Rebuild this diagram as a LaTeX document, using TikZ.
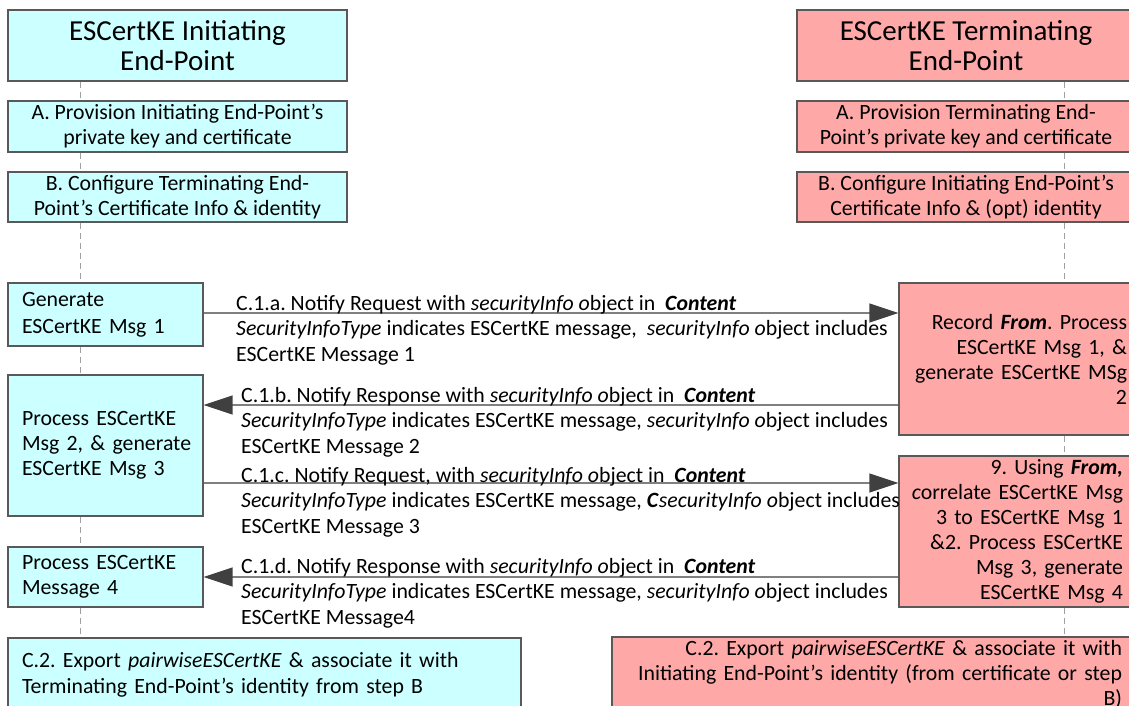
\documentclass[tikz,border=0pt]{standalone}
\usepackage{fontspec}
\setmainfont{Carlito}
\usetikzlibrary{arrows.meta, positioning}
\definecolor{inifill}{RGB}{204,255,255}
\definecolor{terfill}{RGB}{255,168,168}
\definecolor{edgegray}{RGB}{89,89,89}
\definecolor{linegray}{RGB}{128,128,128}
\definecolor{tipgray}{RGB}{64,64,64}
\definecolor{lifegray}{RGB}{160,160,160}
\frenchspacing

\begin{document}
\begin{tikzpicture}[x=1pt, y=-1pt,
    box/.style={rectangle, draw=edgegray, line width=1.2pt, inner sep=0pt, font=\fontsize{21.8}{25}\selectfont},
    ini/.style={box, fill=inifill},
    ter/.style={box, fill=terfill},
    head/.style={font=\fontsize{29}{30}\selectfont, minimum height=71pt, align=center},
    life/.style={draw=lifegray, line width=1pt, dash pattern=on 6pt off 4pt},
    msg/.style={draw=linegray, line width=1.3pt, -{Triangle[length=29pt, width=19pt, color=tipgray]}},
    msgtext/.style={anchor=north west, align=left, inner sep=0pt, font=\fontsize{21.8}{25.5}\selectfont}
]
\useasboundingbox (0,0) rectangle (1129,706);

% Initiating End-Point
\node[ini, head, minimum width=339pt] (hdrI) at (177.5,45.5) {ESCertKE Initiating\\End-Point};
\node[ini, minimum width=339pt, minimum height=51pt, align=center] (provI) at (177.5,126.5) {A. Provision Initiating End-Point’s\\private key and certificate};
\node[ini, minimum width=339pt, minimum height=50pt, align=center] (confI) at (177.5,197) {B. Configure Terminating End-\\Point’s Certificate Info \& identity};
\node[ini, minimum height=63pt, inner xsep=14pt, text width=167pt, align=left, font=\fontsize{21.8}{27}\selectfont] (genI) at (105.5,314.5) {Generate\\ESCertKE Msg 1};
\node[ini, minimum height=141pt, inner xsep=14pt, text width=167pt, align=left] (procI2) at (105.5,445.5) {Process ESCertKE\\\mbox{Msg 2, \& generate}\\ESCertKE Msg 3};
\node[ini, minimum height=60pt, inner xsep=14pt, text width=167pt, align=left] (procI4) at (105.5,577) {Process ESCertKE\\Message 4};
\node[ini, minimum height=74pt, inner xsep=14pt, text width=485pt, align=left, font=\fontsize{21.8}{26}\selectfont] (expI) at (264.5,675) {C.2. Export \textit{pairwiseESCertKE} \& associate it with\\Terminating End-Point’s identity from step B};

% Terminating End-Point
\node[ter, head, minimum width=338pt] (hdrT) at (966,45.5) {ESCertKE Terminating\\End-Point};
\node[ter, minimum width=338pt, minimum height=51pt, align=center] (provT) at (966,126.5) {A. Provision Terminating End-\\Point’s private key and certificate};
\node[ter, minimum width=338pt, minimum height=50pt, align=center] (confT) at (966,197) {B. Configure Initiating End-Point’s\\Certificate Info \& (opt) identity};
\node[ter, minimum height=152pt, inner xsep=8pt, text width=220pt, align=right] (recT) at (1017,359) {Record \textbf{\textit{From}}. Process\\ESCertKE Msg 1, \&\\generate ESCertKE MSg\\2};
\node[ter, minimum height=151pt, inner xsep=12pt, text width=212pt, align=right] (corrT) at (1017,531.5) {9. Using \textbf{\textit{From,}}\\\textit{c}orrelate ESCertKE Msg\\3 to ESCertKE Msg 1\\\&2. Process ESCertKE\\Msg 3, generate\\ESCertKE Msg 4};
\node[ter, minimum height=75pt, inner xsep=14pt, text width=496pt, align=right] (expT) at (874,674.5) {C.2. Export \textit{pairwiseESCertKE} \& associate it with\\Initiating End-Point’s identity (from certificate or step\\B)};

% Lifelines
\coordinate (lifeI) at (80,0);
\coordinate (lifeT) at (1064,0);
\foreach \a/\b in {hdrI/provI, provI/confI, confI/genI, genI/procI2, procI2/procI4, procI4/expI}
  \draw[life] (\a.south -| lifeI) -- (\b.north -| lifeI);
\foreach \a/\b in {hdrT/provT, provT/confT, confT/recT, recT/corrT, corrT/expT}
  \draw[life] (\a.south -| lifeT) -- (\b.north -| lifeT);

% Messages
\coordinate (yA) at (0,313);
\coordinate (yB) at (0,405);
\coordinate (yC) at (0,483);
\coordinate (yD) at (0,577);
\draw[msg] (genI.east |- yA) -- (recT.west |- yA);
\draw[msg] (recT.west |- yB) -- (procI2.east |- yB);
\draw[msg] (procI2.east |- yC) -- (corrT.west |- yC);
\draw[msg] (corrT.west |- yD) -- (procI4.east |- yD);

\node[msgtext] (txtA) at (236,295) {C.1.a. Notify Request with \textit{securityInfo o}bject in\ \ \textbf{\textit{Content}}\\\textit{SecurityInfoType} indicates ESCertKE message,\ \ \textit{securityInfo o}bject includes\\ESCertKE Message 1};
\node[msgtext] (txtB) at (241,387) {C.1.b. Notify Response with \textit{securityInfo o}bject in\ \ \textbf{\textit{Content}}\\\textit{SecurityInfoType} indicates ESCertKE message, \textit{securityInfo o}bject includes\\ESCertKE Message 2};
\node[msgtext] (txtC) at (241,467) {C.1.c. Notify Request, with \textit{securityInfo o}bject in\ \ \textbf{\textit{Content}}\\\textit{SecurityInfoType} indicates ESCertKE message, \textbf{\textit{C}}\textit{securityInfo o}bject includes\\ESCertKE Message 3};
\node[msgtext] (txtD) at (241,558) {C.1.d. Notify Response with \textit{securityInfo o}bject in\ \ \textbf{\textit{Content}}\\\textit{SecurityInfoType} indicates ESCertKE message, \textit{securityInfo o}bject includes\\ESCertKE Message4};

\end{tikzpicture}
\end{document}
